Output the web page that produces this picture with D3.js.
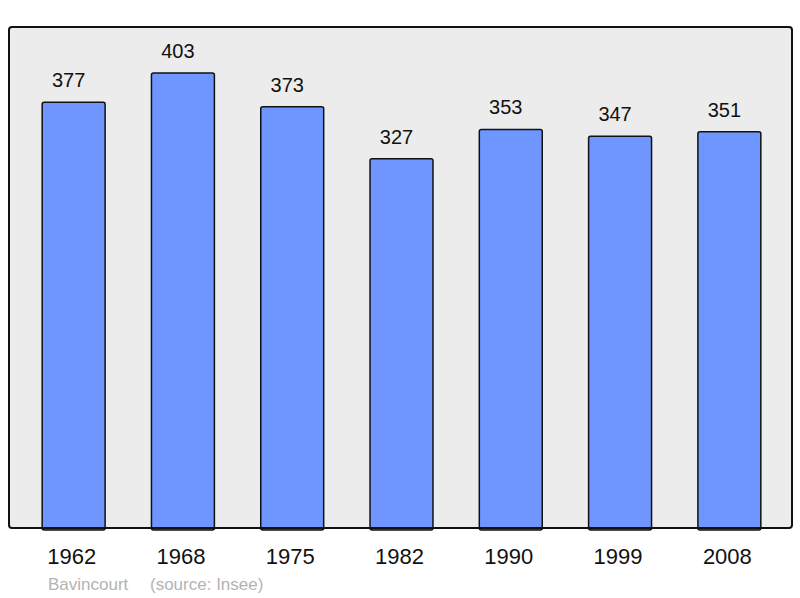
<!DOCTYPE html>
<html>
<head>
<meta charset="utf-8">
<script src="https://cdn.jsdelivr.net/npm/d3@7"></script>
<style>
  body { margin: 0; background: #fff; }
  svg { display: block; font-family: "Liberation Sans", Arial, sans-serif; }
</style>
</head>
<body>
<svg width="800" height="598"></svg>
<script>
const years = ["1962", "1968", "1975", "1982", "1990", "1999", "2008"];
const population = [377, 403, 373, 327, 353, 347, 351];
const town = "Bavincourt";
const source = "(source: Insee)";

const svg = d3.select("svg");

const frame = { left: 9, right: 792, top: 27, bottom: 528 };

svg.append("rect")
  .attr("x", frame.left)
  .attr("y", frame.top)
  .attr("width", frame.right - frame.left)
  .attr("height", frame.bottom - frame.top)
  .attr("rx", 3)
  .attr("fill", "#ececec");

const x = d3.scaleBand()
  .domain(years)
  .range([19, 784])
  .paddingInner(0.424)
  .paddingOuter(0.212);

const y = d3.scaleLinear()
  .domain([0, 443.7])
  .range([frame.bottom, frame.top]);

const data = years.map((yr, i) => ({ year: yr, value: population[i] }));

svg.selectAll("rect.bar")
  .data(data)
  .enter()
  .append("rect")
  .attr("class", "bar")
  .attr("x", d => x(d.year))
  .attr("y", d => y(d.value))
  .attr("width", x.bandwidth())
  .attr("height", d => frame.bottom - y(d.value) + 2)
  .attr("rx", 2)
  .attr("fill", "#6f96ff")
  .attr("stroke", "#111")
  .attr("stroke-width", 1.5);

// value labels sit a little left of the bar centre in the original
svg.selectAll("text.val")
  .data(data)
  .enter()
  .append("text")
  .attr("class", "val")
  .attr("x", d => x(d.year) + x.bandwidth() / 2 - 5)
  .attr("y", d => y(d.value) - 15)
  .attr("text-anchor", "middle")
  .attr("font-size", 20)
  .attr("fill", "#111")
  .text(d => d.value);

// frame border drawn over bars
svg.append("rect")
  .attr("x", frame.left)
  .attr("y", frame.top)
  .attr("width", frame.right - frame.left)
  .attr("height", frame.bottom - frame.top)
  .attr("rx", 3)
  .attr("fill", "none")
  .attr("stroke", "#111")
  .attr("stroke-width", 2);

const xAxis = d3.axisBottom(x).tickSize(0).tickPadding(0);
const gx = svg.append("g")
  .attr("transform", `translate(-2,${frame.bottom})`)
  .call(xAxis);
gx.select(".domain").remove();
gx.selectAll("text")
  .attr("y", 35.5)
  .attr("dy", 0)
  .attr("font-size", 22)
  .attr("font-family", "Liberation Sans, Arial, sans-serif")
  .attr("fill", "#111");

svg.append("text")
  .attr("x", 48)
  .attr("y", 590)
  .attr("font-size", 17)
  .attr("fill", "#b3b3b3")
  .text(town);

svg.append("text")
  .attr("x", 150)
  .attr("y", 590)
  .attr("font-size", 17)
  .attr("fill", "#b3b3b3")
  .text(source);
</script>
</body>
</html>
